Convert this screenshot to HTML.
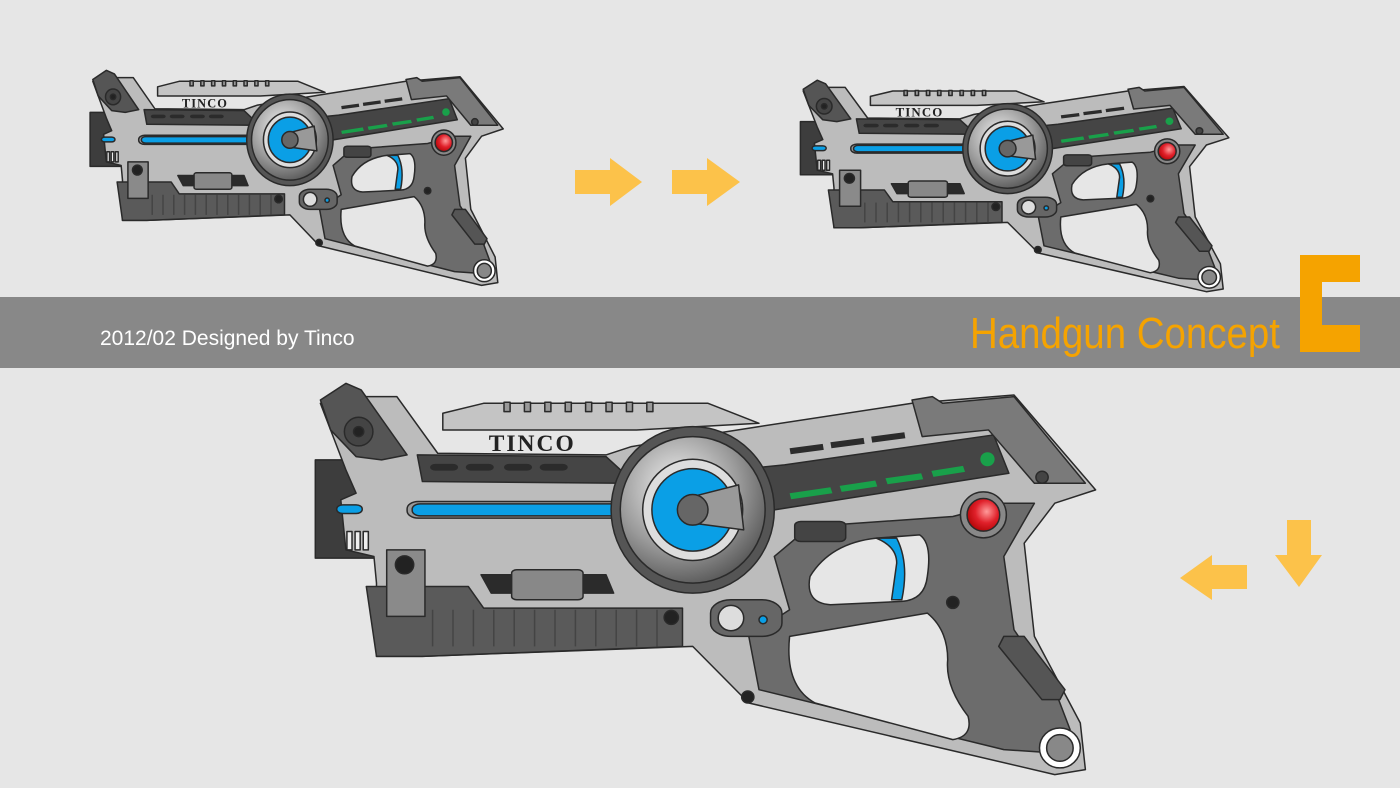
<!DOCTYPE html>
<html><head><meta charset="utf-8"><style>
html,body{margin:0;padding:0;background:#e6e6e6;overflow:hidden}
svg{display:block}
</style></head><body>
<svg width="1400" height="788" viewBox="0 0 1400 788" xmlns="http://www.w3.org/2000/svg">
<defs>
<radialGradient id="rg" cx="0.4" cy="0.35" r="0.7"><stop offset="0" stop-color="#f4f4f4"/><stop offset="0.6" stop-color="#9a9a9a"/><stop offset="1" stop-color="#555"/></radialGradient>
<radialGradient id="red" cx="0.6" cy="0.4" r="0.7"><stop offset="0" stop-color="#ff9a9a"/><stop offset="0.5" stop-color="#e0202a"/><stop offset="1" stop-color="#a00"/></radialGradient>
<style>#gun *{vector-effect:non-scaling-stroke}</style>
<g id="gun" stroke="#2a2a2a" stroke-width="1.5" stroke-linejoin="round">
  <rect x="30" y="270" width="130" height="295" fill="#3d3d3d"/>
  <polygon fill="#bcbcbc" points="110,80 190,80 270,250 600,255 650,230 900,170 1200,100 1400,75 1560,360 1480,400 1420,520 1440,800 1530,1060 1540,1200 1480,1215 880,1000 770,830 240,860 150,860 150,640 145,560 90,540 80,390 110,370 90,300 40,100"/>
  <polygon fill="#c4c4c4" points="280,130 360,100 800,100 900,160 660,180 280,180"/>
  <g fill="#999">
    <rect x="400" y="97" width="12" height="28"/><rect x="440" y="97" width="12" height="28"/><rect x="480" y="97" width="12" height="28"/><rect x="520" y="97" width="12" height="28"/><rect x="560" y="97" width="12" height="28"/><rect x="600" y="97" width="12" height="28"/><rect x="640" y="97" width="12" height="28"/><rect x="680" y="97" width="12" height="28"/>
  </g>
  <polygon fill="#555" points="40,90 90,40 120,60 210,255 160,270 110,260 60,180"/>
  <ellipse cx="115" cy="185" rx="28" ry="43" fill="#444"/><ellipse cx="115" cy="185" rx="10" ry="15" fill="#222"/>
  <polygon fill="#454545" points="230,255 600,260 650,330 950,285 1360,195 1390,310 930,420 640,340 240,335"/>
  <g fill="#2b2b2b" stroke="none">
    <rect x="255" y="282" width="55" height="20" rx="10"/><rect x="325" y="282" width="55" height="20" rx="10"/><rect x="400" y="282" width="55" height="20" rx="10"/><rect x="470" y="282" width="55" height="20" rx="10"/>
    <polygon points="960,235 1025,222 1027,240 962,253"/><polygon points="1040,217 1105,204 1107,222 1042,235"/><polygon points="1120,200 1185,187 1187,205 1122,218"/>
  </g>
  <g fill="#19a04a" stroke="none">
    <polygon points="960,370 1040,352 1044,370 963,388"/><polygon points="1058,348 1128,332 1132,350 1062,366"/><polygon points="1148,325 1218,310 1222,328 1152,343"/><polygon points="1238,303 1300,288 1304,306 1242,321"/>
  </g>
  <ellipse cx="1348" cy="268" rx="14" ry="21" fill="#19a04a" stroke="none"/>
  <polygon fill="#7a7a7a" points="1200,90 1240,80 1260,100 1400,80 1540,340 1440,340 1350,180 1220,200"/>
  <ellipse cx="1455" cy="322" rx="12" ry="18" fill="#444"/>
  <polygon fill="#5a5a5a" points="130,650 330,650 360,715 750,715 750,830 240,860 150,860"/>
  <g stroke="#444"><line x1="260" y1="720" x2="260" y2="830"/><line x1="300" y1="720" x2="300" y2="830"/><line x1="340" y1="720" x2="340" y2="830"/><line x1="380" y1="720" x2="380" y2="830"/><line x1="420" y1="720" x2="420" y2="830"/><line x1="460" y1="720" x2="460" y2="830"/><line x1="500" y1="720" x2="500" y2="830"/><line x1="540" y1="720" x2="540" y2="830"/><line x1="580" y1="720" x2="580" y2="830"/><line x1="620" y1="720" x2="620" y2="830"/><line x1="660" y1="720" x2="660" y2="830"/><line x1="700" y1="720" x2="700" y2="830"/></g>
  <rect x="170" y="540" width="75" height="200" fill="#8a8a8a"/><ellipse cx="205" cy="585" rx="18" ry="27" fill="#222"/>
  <polygon fill="#2b2b2b" points="355,615 600,615 615,670 375,670"/>
  <rect x="415" y="600" width="140" height="90" rx="10" fill="#888"/>
  <rect x="210" y="395" width="455" height="50" rx="22" fill="#9a9a9a"/>
  <rect x="220" y="402" width="435" height="36" rx="16" fill="#0a9fe6"/>
  <rect x="72" y="405" width="50" height="26" rx="12" fill="#0a9fe6"/>
  <rect x="92" y="485" width="10" height="55" fill="#eee"/><rect x="108" y="485" width="10" height="55" fill="#eee"/><rect x="124" y="485" width="10" height="55" fill="#eee"/>
  <path fill="#6c6c6c" d="M930,560 L1000,470 L1280,440 L1380,400 L1440,400 L1380,560 L1400,780 L1480,960 L1510,1080 L1480,1150 L1380,1140 L900,960 L880,800 L960,720 Z"/>
  <path fill="#e6e6e6" d="M1000,620 Q1040,520 1130,505 L1215,495 Q1240,520 1230,620 Q1225,690 1180,695 L1040,705 Q990,700 1000,620 Z"/>
  <path fill="#e6e6e6" d="M960,800 L1230,730 Q1270,780 1270,870 Q1265,950 1310,1040 Q1320,1100 1280,1110 L1010,1000 Q950,950 960,800 Z"/>
  <path fill="#0a9fe6" d="M1130,505 Q1170,530 1170,580 L1160,690 L1180,690 Q1195,580 1170,505 Z"/>
  <ellipse cx="770" cy="420" rx="160" ry="250" fill="#555"/>
  <ellipse cx="770" cy="420" rx="142" ry="220" fill="url(#rg)"/>
  <ellipse cx="770" cy="420" rx="98" ry="152" fill="#ddd"/>
  <ellipse cx="770" cy="420" rx="80" ry="124" fill="#0a9fe6"/>
  <polygon fill="#999" points="770,380 860,345 870,480 770,460"/>
  <ellipse cx="770" cy="420" rx="30" ry="46" fill="#666"/>
  <ellipse cx="1340" cy="435" rx="45" ry="69" fill="#888"/><ellipse cx="1340" cy="435" rx="32" ry="49" fill="url(#red)"/>
  <rect x="970" y="455" width="100" height="60" rx="12" fill="#444"/>
  <rect x="805" y="690" width="140" height="110" rx="40" fill="#666"/><ellipse cx="845" cy="745" rx="25" ry="38" fill="#ddd"/><ellipse cx="908" cy="750" rx="8" ry="12" fill="#0a9fe6"/>
  <polygon fill="#555" points="1380,800 1420,800 1500,960 1490,990 1455,990 1370,830"/>
  <ellipse cx="1490" cy="1135" rx="40" ry="60" fill="#fff"/><ellipse cx="1490" cy="1135" rx="26" ry="40" fill="#888"/>
  <ellipse cx="878" cy="982" rx="12" ry="18" fill="#222"/><ellipse cx="1280" cy="698" rx="12" ry="18" fill="#222"/><ellipse cx="728" cy="743" rx="14" ry="21" fill="#222"/>
  <text transform="translate(370,243) scale(1,1.53)" font-family="Liberation Serif, serif" font-weight="bold" font-size="46" fill="#222" stroke="none" letter-spacing="4">TINCO</text>
</g>
</defs>
<rect width="1400" height="788" fill="#e6e6e6"/>
<rect x="0" y="297" width="1400" height="71" fill="#888888"/>
<text x="100" y="345" font-family="Liberation Sans, sans-serif" font-size="21" fill="#ffffff">2012/02 Designed by Tinco</text>
<text x="970" y="348" font-family="Liberation Sans, sans-serif" font-size="44" fill="#f5a300" textLength="310" lengthAdjust="spacingAndGlyphs">Handgun Concept</text>
<path d="M1300,255 H1360 V282 H1322 V325 H1360 V352 H1300 Z" fill="#f5a300"/>
<use href="#gun" transform="translate(300,370) scale(0.51,0.333)"/>
<use href="#gun" transform="translate(792,73) scale(0.28,0.18)"/>
<use href="#gun" transform="translate(82,63) scale(0.27,0.183)"/>
<g fill="#fcc24a">
<polygon points="575,170 610,170 610,158 642,182 610,206 610,194 575,194"/>
<polygon points="672,170 707,170 707,158 740,182 707,206 707,194 672,194"/>
<polygon points="1247,565 1212,565 1212,555 1180,578 1212,600 1212,589 1247,589"/>
<polygon points="1287,520 1311,520 1311,555 1322,555 1299,587 1275,555 1287,555"/>
</g>
</svg>
</body></html>
